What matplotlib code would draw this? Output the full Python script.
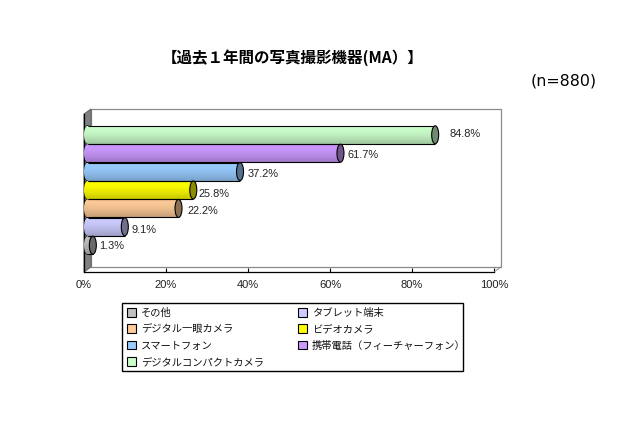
import numpy as np
import matplotlib
matplotlib.use("Agg")
import matplotlib.pyplot as plt
from matplotlib.patches import Ellipse, Polygon, Patch, Rectangle
from matplotlib.colors import to_rgb, LinearSegmentedColormap

plt.rcParams['font.family'] = ['Noto Sans CJK JP', 'DejaVu Sans']

categories = ['その他', 'タブレット端末', 'デジタル一眼カメラ', 'ビデオカメラ',
              'スマートフォン', '携帯電話（フィーチャーフォン）', 'デジタルコンパクトカメラ']
values = [1.3, 9.1, 22.2, 25.8, 37.2, 61.7, 84.8]
labels = ['1.3%', '9.1%', '22.2%', '25.8%', '37.2%', '61.7%', '84.8%']
colors = ['#C0C0C0', '#CCCCFF', '#FFCC99', '#FFFF00', '#99CCFF', '#CC99FF', '#CCFFCC']
xticks = [0, 20, 40, 60, 80, 100]
label_dx = [3, 3, 5, 2, 4, 4, 11]
label_dy = [1, 3, 3, 4, 2, 2, -1]

W, H = 640, 426
fig = plt.figure(figsize=(W / 100, H / 100), dpi=100, facecolor='white')
L, R, T, B = 84, 494, 114, 272
ax = fig.add_axes([L / W, 1 - B / H, (R - L) / W, (B - T) / H])
ax.set_xlim(0, 100)
ylo, yhi = (245.2 - B) / 18.4, (245.2 - T) / 18.4
ax.set_ylim(ylo, yhi)
ax.patch.set_visible(False)
for s in ax.spines.values():
    s.set_visible(False)

pxx = 100 / (R - L)      # data units per pixel, x
pxy = (yhi - ylo) / (B - T)
dx, dy = 7 * pxx, 5 * pxy
half = dx / 2
bar_h = 18 * pxy

# 3D frame: back wall, left wall, floor edge
ax.add_patch(Polygon([(dx, ylo + dy), (100 + dx, ylo + dy), (100 + dx, yhi + dy), (dx, yhi + dy)],
                     closed=True, fc='white', ec='#8a8a8a', lw=0.9, clip_on=False, zorder=1))
ax.add_patch(Polygon([(0, ylo), (dx, ylo + dy), (dx, yhi + dy), (0, yhi)],
                     closed=True, fc='#808080', ec='#606060', lw=0.7, clip_on=False, zorder=2))
ax.plot([100, 100 + dx], [ylo, ylo + dy], color='#8a8a8a', lw=0.7, clip_on=False, zorder=2)
ax.plot([0, 0], [ylo, yhi], color='black', lw=0.9, clip_on=False, zorder=3)
ax.plot([0, 100], [ylo, ylo], color='black', lw=0.9, clip_on=False, zorder=3)

ax.set_xticks(xticks)
ax.set_xticklabels([f'{t}%' for t in xticks], fontfamily='Liberation Sans', fontsize=8, color='#222222')
ax.tick_params(axis='x', direction='in', length=3, width=0.8, pad=6, color='black')
ax.set_yticks([])

def grad(col):
    r = np.array(to_rgb(col))
    stops = [r, r * 0.97, r * 0.89, r * 0.78]
    return LinearSegmentedColormap.from_list('g', [tuple(s) for s in stops])

ramp = np.linspace(0, 1, 64).reshape(-1, 1)
ypos = np.arange(len(values))
bars = ax.barh(ypos, values, left=half, height=bar_h, color=colors, linewidth=0, zorder=4)
for y, v, c, b, lab, ldx, ldy in zip(ypos, values, colors, bars, labels, label_dx, label_dy):
    top, bot = y + bar_h / 2, y - bar_h / 2
    cm = grad(c)
    left = Ellipse((half, y), dx, bar_h, fc=c, ec='black', lw=0.8, zorder=4)
    ax.add_patch(left)
    im2 = ax.imshow(ramp, cmap=cm, aspect='auto', extent=(0, half + 0.01, bot, top), zorder=4.1)
    im2.set_clip_path(left)
    im = ax.imshow(ramp, cmap=cm, aspect='auto', extent=(half, half + v, bot, top), zorder=4.2)
    im.set_clip_path(b)
    ax.plot([half, half + v], [top, top], color='black', lw=0.8, zorder=4.3, solid_capstyle='butt')
    ax.plot([half, half + v], [bot, bot], color='black', lw=0.8, zorder=4.3, solid_capstyle='butt')
    r = np.array(to_rgb(c)) * 0.55
    ax.add_patch(Ellipse((half + v, y), dx, bar_h, fc=tuple(r), ec='black', lw=0.8, zorder=4.4))
    ax.annotate(lab, (v + dx, y), xytext=(ldx * 0.72, -ldy * 0.72), textcoords='offset points',
                ha='left', va='center', fontfamily='Liberation Sans', fontsize=7.9,
                color='#222222', zorder=5)
ax.set_xlim(0, 100)
ax.set_ylim(ylo, yhi)

fig.text(292.5 / W, 1 - 58 / H, '【過去１年間の写真撮影機器(MA）】', ha='center', va='center',
         fontsize=11.2, fontweight='bold', color='black')
fig.text(563.5 / W, 1 - 81 / H, '(n=880)', ha='center', va='center', fontsize=11.4,
         fontfamily='DejaVu Sans', color='black')

order = [0, 2, 4, 6, 1, 3, 5]
handles = [Patch(fc=colors[i], ec='black', lw=0.8, label=categories[i]) for i in order]
leg = fig.legend(handles=handles, ncol=2, loc='upper left',
                 bbox_to_anchor=(122 / W, 1 - 303 / H), borderaxespad=0,
                 fontsize=7.4, frameon=False,
                 handlelength=0.95, handleheight=0.95, handletextpad=0.45,
                 columnspacing=3.28, labelspacing=0.62, borderpad=0.45)
for t in leg.get_texts():
    t.set_color('#111111')
fig.add_artist(Rectangle((122 / W, 1 - 371 / H), 341 / W, 68 / H, transform=fig.transFigure,
                         fc='none', ec='black', lw=1.0))

fig.savefig('out.png', dpi=100, facecolor='white')
